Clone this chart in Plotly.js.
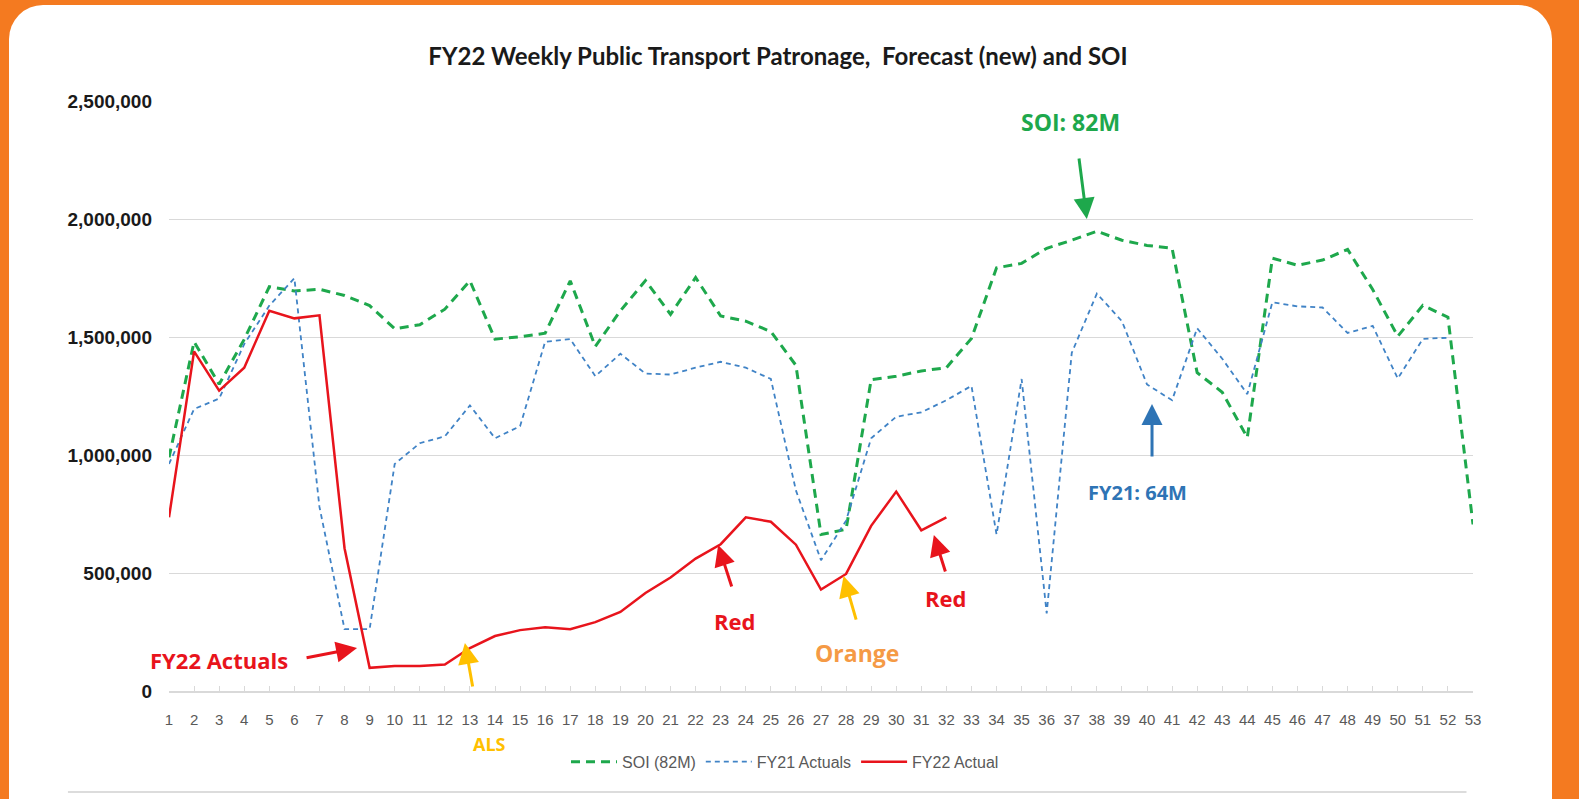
<!DOCTYPE html>
<html>
<head>
<meta charset="utf-8">
<script src="https://cdn.plot.ly/plotly-3.0.1.min.js"></script>
<style>
  html, body { margin: 0; padding: 0; width: 1579px; height: 799px; overflow: hidden; background: #F47A20; }
  #panel { position: absolute; left: 9px; top: 5px; width: 1543px; height: 830px; background: #ffffff; border-radius: 34px; }
  #chart { position: absolute; left: 0; top: 0; width: 1579px; height: 799px; }
</style>
</head>
<body>
<div id="panel"></div>
<div id="chart"></div>
<script>
const weeks = Array.from({length: 53}, (_, i) => i + 1);

const soi = [990000, 1480000, 1300000, 1490000, 1713000, 1695000, 1702000, 1676000, 1633000, 1535000,
  1552000, 1618000, 1738000, 1491000, 1501000, 1516000, 1738000, 1460000, 1611000, 1739000,
  1596000, 1752000, 1589000, 1567000, 1523000, 1380000, 663000, 685000, 1319000, 1334000,
  1356000, 1370000, 1494000, 1793000, 1812000, 1876000, 1910000, 1948000, 1910000, 1888000,
  1876000, 1349000, 1266000, 1074000, 1834000, 1804000, 1826000, 1871000, 1701000, 1503000,
  1634000, 1584000, 706000];

const fy21 = [962000, 1195000, 1239000, 1470000, 1633000, 1749000, 780000, 262000, 262000, 962000,
  1050000, 1079000, 1210000, 1071000, 1122000, 1480000, 1491000, 1334000, 1429000, 1345000,
  1341000, 1370000, 1395000, 1370000, 1322000, 850000, 554000, 722000, 1071000, 1162000,
  1181000, 1232000, 1293000, 663000, 1322000, 329000, 1433000, 1684000, 1567000, 1299000,
  1232000, 1537000, 1408000, 1258000, 1647000, 1630000, 1625000, 1517000, 1547000, 1324000,
  1492000, 1497000, null];

const fy22 = [736000, 1439000, 1273000, 1370000, 1611000, 1579000, 1592000, 605000, 98000, 106000,
  106000, 112000, 182000, 233000, 258000, 270000, 262000, 292000, 335000, 415000,
  481000, 561000, 622000, 736000, 717000, 620000, 430000, 496000, 700000, 845000,
  681000, 736000];

const seriesNames = ["SOI (82M)", "FY21 Actuals", "FY22 Actual"];
const yTicks = [0, 500000, 1000000, 1500000, 2000000, 2500000];
const yTickText = ["0", "500,000", "1,000,000", "1,500,000", "2,000,000", "2,500,000"];

const GREEN = "#1EA84C", BLUE = "#4083C6", RED = "#E8141C", YELLOW = "#FFC000", ORANGE_T = "#F59A45";
const FONT = "Open Sans, Liberation Sans, sans-serif";

const traces = [
  { x: weeks, y: soi, name: seriesNames[0], type: "scatter", mode: "lines",
    line: { color: GREEN, width: 3, dash: "9px,6px" } },
  { x: weeks, y: fy21, name: seriesNames[1], type: "scatter", mode: "lines",
    line: { color: BLUE, width: 1.8, dash: "5px,4px" } },
  { x: weeks.slice(0, fy22.length), y: fy22, name: seriesNames[2], type: "scatter", mode: "lines",
    line: { color: RED, width: 2.5 } }
];

function txt(text, x, y, color, size, yref) {
  return { text: "<b>" + text + "</b>", x: x, y: y, xref: "x", yref: yref || "y", showarrow: false,
    font: { family: FONT, size: size, color: color }, xanchor: "center", yanchor: "middle" };
}
function arr(x, y, ax, ay, color, w) {
  return { text: "", x: x, y: y, xref: "x", yref: "y", showarrow: true, ax: ax, ay: ay,
    arrowcolor: color, arrowwidth: w, arrowhead: 2, arrowsize: 1.4, standoff: 0 };
}

const annotations = [
  txt("SOI: 82M", 36.93, 2411000, GREEN, 23),
  arr(37.6, 2000000, -8, -62, GREEN, 3),
  txt("FY21: 64M", 39.64, 843000, "#2E74B5", 20),
  arr(40.2, 1216000, 0, 54, "#2E74B5", 3),
  txt("FY22 Actuals", 2.99, 131000, RED, 22),
  arr(8.5, 182000, -52, 10, RED, 3),
  arr(12.8, 203000, 8, 45, YELLOW, 3),
  txt("Red", 23.57, 297000, RED, 22),
  arr(22.9, 619000, 14, 43, RED, 3),
  txt("Orange", 28.43, 161000, ORANGE_T, 23),
  arr(27.9, 487000, 13, 45, YELLOW, 3),
  txt("Red", 31.98, 394000, RED, 22),
  arr(31.5, 661000, 12, 38, RED, 3),
  txt("ALS", 13.8, -0.09, YELLOW, 18, "paper")
];

const layout = {
  width: 1579, height: 799,
  margin: { l: 169, r: 106, t: 101, b: 108, pad: 0 },
  paper_bgcolor: "rgba(0,0,0,0)", plot_bgcolor: "rgba(0,0,0,0)",
  title: { text: "<b>FY22 Weekly Public Transport Patronage,  Forecast (new) and SOI</b>",
    x: 0.4927, xref: "container", xanchor: "center", y: 0.9287, yref: "container", yanchor: "middle",
    font: { family: "Lato, Liberation Sans, sans-serif", size: 24, color: "#1a1a1a" } },
  xaxis: { range: [1, 53], tickmode: "array", tickvals: weeks, ticktext: weeks.map(String),
    showgrid: false, zeroline: false, showline: true, linecolor: "#d9d9d9", linewidth: 1.5,
    ticks: "inside", ticklen: 5, tickcolor: "#d9d9d9", tickwidth: 1,
    tickfont: { family: "Liberation Sans, sans-serif", size: 15, color: "#595959" },
    ticklabelstandoff: 14, automargin: false, fixedrange: true },
  yaxis: { range: [0, 2500000], tickmode: "array", tickvals: yTicks, ticktext: yTickText,
    showgrid: true, gridcolor: "#d9d9d9", gridwidth: 1, zeroline: false, showline: false,
    ticks: "", tickfont: { family: "Liberation Sans, sans-serif", size: 19, color: "#1a1a1a", weight: "bold" },
    ticklabelstandoff: 16, automargin: false, fixedrange: true },
  showlegend: true,
  legend: { orientation: "h", x: 0.4724, xanchor: "center", y: -0.12, yanchor: "middle",
    font: { family: "Liberation Sans, sans-serif", size: 16, color: "#595959" },
    bgcolor: "rgba(0,0,0,0)", itemwidth: 46, tracegroupgap: 0 },
  annotations: annotations,
  shapes: [
    { type: "line", xref: "paper", yref: "paper", x0: -0.0775, x1: 0.995, y0: -0.171, y1: -0.171,
      line: { color: "#d0d0d0", width: 1.5 } }
  ]
};

Plotly.newPlot("chart", traces, layout, { displayModeBar: false, staticPlot: true });
</script>
</body>
</html>
